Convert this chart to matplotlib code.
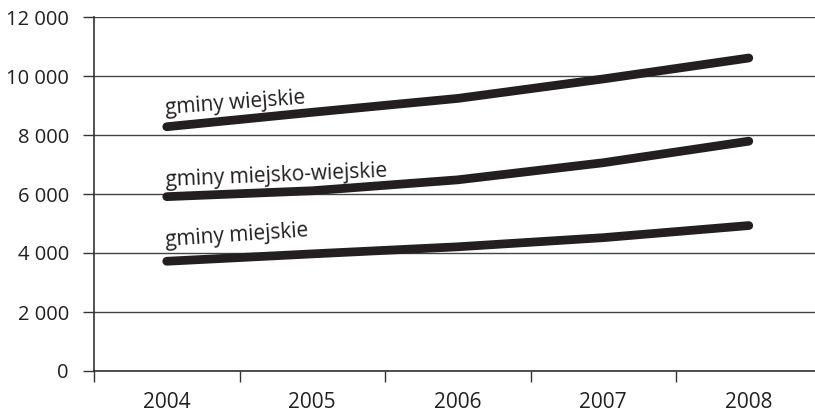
import matplotlib
matplotlib.use("Agg")
import matplotlib.pyplot as plt
import numpy as np

years = ["2004", "2005", "2006", "2007", "2008"]
wiejskie = [8280, 8770, 9240, 9900, 10610]
miejsko_wiejskie = [5910, 6110, 6480, 7060, 7790]
miejskie = [3720, 3970, 4210, 4520, 4930]
series_labels = ["gminy wiejskie", "gminy miejsko-wiejskie", "gminy miejskie"]
y_ticks = [0, 2000, 4000, 6000, 8000, 10000, 12000]

plt.rcParams['font.family'] = ['Open Sans', 'DejaVu Sans']

fig = plt.figure(figsize=(8.15, 4.13), dpi=100)
ax = fig.add_axes([94/815, 1 - 371/413, 1 - 94/815, (371 - 17)/413])

x = np.arange(len(years))
col = '#231f20'
series = [wiejskie, miejsko_wiejskie, miejskie]
for vals in series:
    ax.plot(x, vals, color=col, lw=6.3, solid_capstyle='round', solid_joinstyle='round', zorder=3)

ax.set_ylim(0, 12000)
ax.set_xlim(-0.5, 4.455)
ax.set_yticks(y_ticks)
ax.set_yticklabels([f"{v:,}".replace(",", " ") for v in y_ticks], fontsize=14.5, color=col)
ax.yaxis.grid(True, color='#444444', lw=1.0)
ax.set_axisbelow(True)

ax.set_xticks(np.arange(-0.5, 4.0, 1.0))
ax.set_xticklabels([])
ax.set_xticks(x, minor=True)
ax.set_xticklabels(years, minor=True, fontsize=15, color=col)
ax.tick_params(axis='x', which='minor', length=0, pad=15)
ax.tick_params(axis='x', which='major', length=8, width=1, color='#333333', direction='out')
ax.tick_params(axis='y', length=8, width=1, color='#333333', pad=10)

for s in ['top', 'right']:
    ax.spines[s].set_visible(False)
for s in ['left', 'bottom']:
    ax.spines[s].set_color('#333333')
    ax.spines[s].set_linewidth(1.2)

# series labels
label_pos = [(-0.01, 8720, 4.3), (-0.01, 6270, 2.4), (-0.01, 4220, 3.9)]
for (lx, ly, rot), txt in zip(label_pos, series_labels):
    ax.text(lx, ly, txt, fontsize=15, color=col, rotation=rot,
            rotation_mode='anchor', ha='left', va='baseline')

fig.savefig("out.png", dpi=100)
